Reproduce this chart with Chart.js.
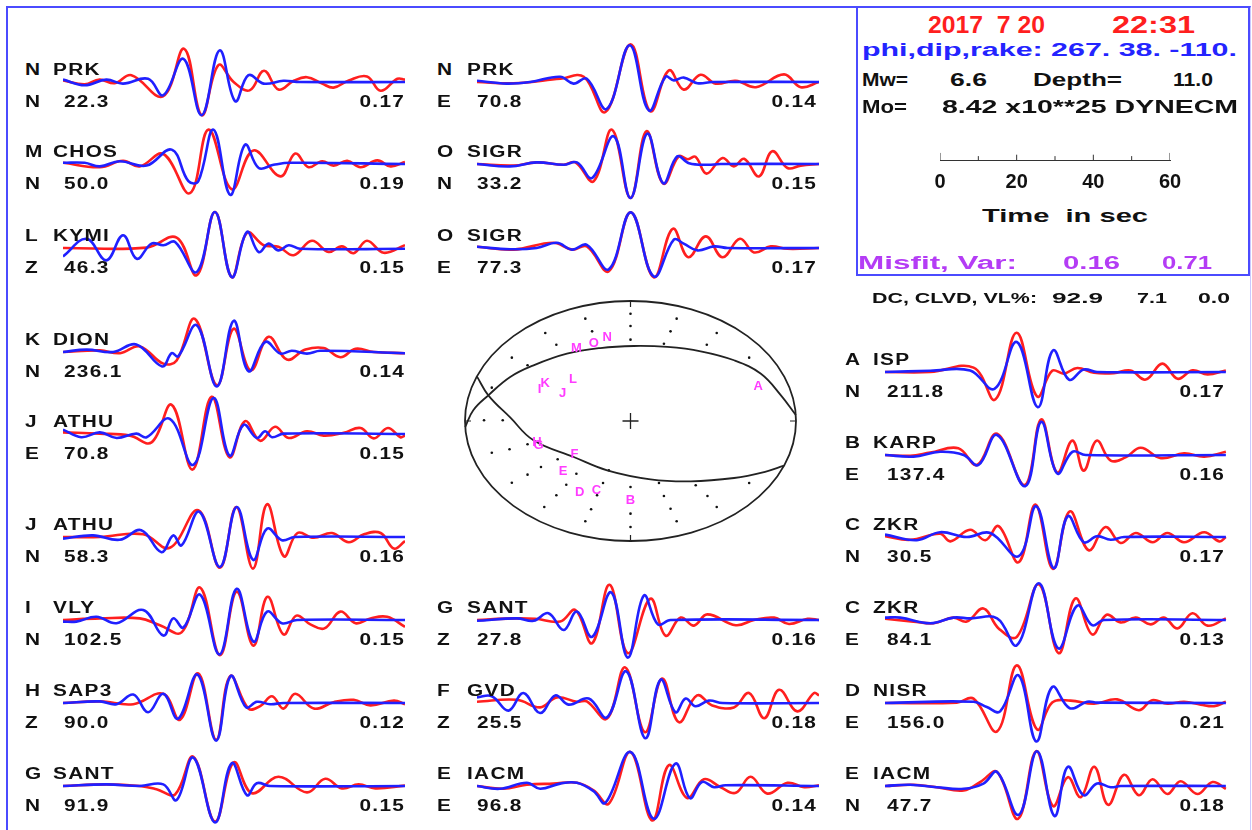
<!DOCTYPE html>
<html>
<head>
<meta charset="utf-8">
<title>Waveform fit 2017 7 20</title>
<script src="https://cdn.jsdelivr.net/npm/chart.js@4.4.1/dist/chart.umd.min.js"></script>
<style>
  body { margin: 0; background: #fff; }
  #page { position: relative; width: 1252px; height: 830px; overflow: hidden; background: #fff;
          font-family: "Liberation Sans", Arial, sans-serif; font-weight: bold; }
  #page canvas { position: absolute; }
  .txt { position: absolute; white-space: pre; }
  #frame { position: absolute; left: 6px; top: 6px; width: 1242px; height: 840px;
           border-left: 2px solid #4b4bff; border-top: 2px solid #4b4bff; border-right: 1px solid #c9c9ff; }
  #infobox { position: absolute; left: 856px; top: 6px; width: 390px; height: 266px; border: 2px solid #4b4bff; }
</style>
</head>
<body>
<div id="page"><div id="frame"></div><div id="infobox"></div></div>
<script>
// ---- event info ----
const eventDate = '2017  7 20';
const eventTime = '22:31';
const mechanism = [267, 38, -110];   // phi, dip, rake
const mw = 6.6;
const depthKm = 11.0;
const moment = 8.42;                 // x10**25 dyne-cm
const misfit = 0.16;
const variance = 0.71;
const dcClvdVl = [92.9, 7.1, 0.0];
const scaleTicks = [0, 20, 40, 60];
const scaleMarks = [0, 10, 20, 30, 40, 50, 60];
const scaleMarkH = [1, 0.55, 0.75, 0.55, 0.75, 0.55, 1];

// ---- stations / panels ----
const codeLetters = ['N','M','L','K','J','J','I','H','G','N','O','O','G','F','E','A','B','C','C','D','E'];
const stations = ['PRK','CHOS','KYMI','DION','ATHU','ATHU','VLY','SAP3','SANT','PRK','SIGR','SIGR','SANT','GVD','IACM','ISP','KARP','ZKR','ZKR','NISR','IACM'];
const components = ['N','N','Z','N','E','N','N','Z','N','E','N','E','Z','Z','E','N','E','N','E','E','N'];
const labelNum = ['22.3','50.0','46.3','236.1','70.8','58.3','102.5','90.0','91.9','70.8','33.2','77.3','27.8','25.5','96.8','211.8','137.4','30.5','84.1','156.0','47.7'];
const peakAmp = ['0.17','0.19','0.15','0.14','0.15','0.16','0.15','0.12','0.15','0.14','0.15','0.17','0.16','0.18','0.14','0.17','0.16','0.17','0.13','0.21','0.18'];

// ---- traces: [time s, relative amplitude]; red = syn, blue = obs ----
const synPRK_N = [[0,0.04],[5.7,-0.06],[9.6,0.06],[13.6,-0.03],[18,0.17],[26.3,-0.36],[31.9,0.83],[36.5,-0.83],[40.9,0.42],[44.9,0],[49.1,-0.21],[52.9,0.28],[56.7,-0.19],[60.7,0.03],[64.2,0.12],[68.2,-0.04],[71.2,-0.14],[75.2,0.04],[80,0.14],[83.6,-0.22],[88,0.08],[90,0.06]];
const obsPRK_N = [[0,0.06],[5.7,-0.08],[11.4,0.06],[15.8,-0.04],[22.4,0.08],[26.4,-0.33],[31.7,0.58],[36.5,-0.83],[41.2,0.79],[45.3,-0.48],[48.8,0.17],[52.8,-0.04],[58,0.03],[62.4,0],[90,0]];
const synCHOS_N = [[0,0.03],[9.7,-0.08],[15.8,0.08],[20.2,-0.06],[26.4,0.25],[33.4,-0.73],[38.3,0.86],[44.4,-0.63],[50.1,0.34],[57.2,-0.31],[61.1,0.26],[64.6,-0.08],[68.2,0.07],[71.2,-0.04],[74.8,0.08],[78.3,-0.08],[82.7,0.09],[86.2,-0.06],[90,0.05]];
const obsCHOS_N = [[0,0.03],[5.7,0.03],[9.7,-0.06],[14.9,0.07],[22,-0.04],[28.6,0.36],[33,-0.43],[35.6,-0.43],[39.6,0.86],[44,-0.77],[47.9,0.48],[51.5,-0.1],[55.4,-0.02],[59.8,0.03],[90,0]];
const synKYMI_Z = [[0,0],[22,0.01],[29.9,0.26],[35.2,-0.68],[40,0.9],[44.4,-0.73],[48.4,0.38],[52.8,0.07],[56.7,0.03],[60.7,-0.18],[65.5,0.18],[69.9,-0.1],[73.4,0.04],[76.5,-0.13],[80,0.18],[84.4,-0.12],[90,0.07]];
const obsKYMI_Z = [[0,-0.21],[6.2,0.23],[11.4,-0.31],[15.8,0.32],[19.4,-0.27],[23.3,0.11],[26.4,0.07],[29.5,0.15],[35.2,-0.6],[40,0.9],[44.4,-0.73],[48.4,0.4],[51.5,-0.1],[54.1,0.11],[56.7,-0.06],[59.4,0.07],[62.4,-0.02],[90,-0.02]];
const synDION_N = [[0,0],[9.7,0.04],[15,-0.03],[20.2,0.14],[26.4,-0.29],[29.9,-0.21],[34.7,0.83],[40.5,-0.83],[44.9,0.58],[49.4,-0.46],[54.1,0.38],[58.9,-0.19],[63.8,0.06],[68.6,0.1],[73,-0.13],[77,0.08],[81.8,0],[90,-0.03]];
const obsDION_N = [[0,0],[6.2,0.06],[13.2,0],[19.3,0.19],[26.1,-0.36],[28.6,-0.03],[30.3,-0.11],[35.2,0.67],[40.5,-0.86],[44.9,0.78],[48.8,-0.48],[53.2,0.25],[57.2,-0.04],[60.2,0.03],[64.2,-0.04],[67.7,0.03],[90,-0.03]];
const synATHU_E = [[0,0.04],[9.7,0.01],[17.6,-0.04],[23.3,-0.21],[28.6,0.73],[34.1,-0.89],[39.1,0.93],[43.8,-0.58],[47.9,0.32],[51.9,-0.17],[55.8,0.18],[59.4,-0.1],[64.2,0.07],[68.6,-0.04],[73.9,0.03],[78.3,0.15],[81.8,-0.11],[85.5,0.15],[88.8,-0.08],[90,-0.04]];
const obsATHU_E = [[0,0.11],[4.8,-0.08],[9.7,0.04],[14.1,-0.1],[19.3,0.01],[22,-0.08],[28.1,0.38],[34.3,-0.77],[39.6,0.9],[43.8,-0.54],[47.5,0.23],[51,-0.1],[53.2,0.07],[55,-0.08],[58.1,0.01],[90,0]];
const synATHU_N = [[0,0],[9.7,0],[21.1,0.07],[28.1,-0.27],[35.6,0.67],[41.3,-0.77],[45.6,0.75],[50,-0.79],[53.7,0.82],[58.1,-0.48],[61.7,0.1],[66,-0.02],[70.8,0.1],[75.2,-0.13],[79.2,0.07],[83.6,0.1],[87.1,-0.29],[90,-0.1]];
const obsATHU_N = [[0,-0.04],[7.9,0.04],[14.9,-0.07],[20.6,0.17],[25.9,-0.38],[29,0.04],[31.2,-0.21],[35.9,0.63],[41.3,-0.75],[45.7,0.75],[50,-0.57],[53.7,0.21],[57.6,-0.08],[61,0],[90,0]];
const synVLY_N = [[0,0],[9.7,0.04],[20.2,0.04],[25.5,-0.13],[31.2,-0.31],[36.1,0.81],[41.3,-0.88],[45.7,0.71],[50.1,-0.64],[53.8,0.58],[58,-0.36],[61.4,0.11],[65.1,-0.11],[68.8,-0.21],[73,0.21],[77,-0.08],[80.9,0.04],[85.3,0.08],[90,-0.17]];
const obsVLY_N = [[0,-0.04],[3.5,-0.04],[8.8,0.08],[14.1,-0.08],[21.1,0.25],[26.4,-0.39],[29,0.04],[31.7,-0.19],[36.1,0.63],[41.2,-0.86],[45.7,0.78],[50.1,-0.54],[53.7,0.21],[57.6,-0.08],[61.6,0],[90,0]];
const synSAP3_Z = [[0,0],[9.7,0.04],[18.5,-0.03],[26.4,0.23],[30.8,-0.42],[35.6,0.74],[40.3,-0.92],[44,0.67],[48.8,-0.14],[51.9,-0.08],[55,0.17],[58,-0.14],[61.1,0.23],[66,-0.14],[71.2,0.02],[76.5,0.08],[80.9,-0.06],[87.1,0.06],[90,-0.03]];
const obsSAP3_Z = [[0,0],[9.7,0.04],[14.1,-0.03],[18.5,0.21],[22.4,-0.23],[26.4,0.23],[30.3,-0.39],[35.4,0.71],[40.3,-0.94],[44.1,0.67],[48.2,-0.11],[51,0.03],[54.5,-0.03],[58,0],[90,0]];
const synSANT_N = [[0,0],[11.4,0.04],[20.2,0],[24.6,-0.08],[29.5,-0.21],[34.3,0.73],[40,-0.89],[44.9,0.59],[49.7,-0.18],[56.7,0.23],[64.2,-0.16],[69,0.18],[73.4,-0.06],[77.8,0.04],[82.2,-0.06],[90,0.01]];
const obsSANT_N = [[0,0],[11.4,0.04],[20.2,0],[26.4,0.04],[29.9,-0.35],[34.3,0.71],[40,-0.91],[44.4,0.57],[48.4,-0.23],[51,0.07],[54.5,0],[90,0]];
const synPRK_E = [[0,0],[9.6,-0.03],[21.9,0.08],[28.1,0.13],[33.8,-0.75],[40.4,0.94],[45.6,-0.73],[50.5,0.29],[54.4,-0.19],[58.8,0.18],[62.8,-0.04],[68.1,0.03],[73.4,-0.13],[80.8,0.19],[85.2,-0.13],[90,0]];
const obsPRK_E = [[0,0.03],[7.8,-0.04],[14,0],[21.9,0.13],[25.4,-0.04],[28.9,0.08],[34.2,-0.67],[40.2,0.92],[45.2,-0.71],[49.6,0.13],[51.8,0.04],[54.4,0.11],[58,-0.03],[62,0],[90,0]];
const synSIGR_N = [[0,0],[9.6,-0.04],[15.7,0.04],[22.8,-0.02],[25.9,0.04],[30.7,-0.43],[35.5,0.86],[40.4,-0.85],[44.6,0.82],[49,-0.49],[53.1,0.19],[55.5,0.12],[57.5,0.18],[60.4,-0.24],[64.6,0.15],[67.6,-0.06],[70.3,0.13],[74.2,-0.31],[77.7,0.32],[81.7,-0.1],[85.2,-0.04],[90,0]];
const obsSIGR_N = [[0,0],[8.7,-0.06],[15.7,0.04],[22.8,-0.02],[26.3,0.04],[30.3,-0.35],[36,0.69],[40.4,-0.85],[44.8,0.76],[49,-0.48],[52.7,0.19],[55.8,0.02],[60.6,-0.02],[64,0],[90,0]];
const synSIGR_E = [[0,0.03],[9.6,-0.04],[20.1,0.13],[25,-0.04],[28.9,0.04],[34.7,-0.58],[40.5,0.89],[46.5,-0.73],[51.5,0.48],[55.6,-0.23],[60.2,0.29],[64.6,-0.23],[69.2,0.23],[72.9,-0.11],[77.3,0.04],[81.7,-0.02],[90,0]];
const obsSIGR_E = [[0,0.03],[8.7,-0.03],[15.7,0],[21,0.13],[25,-0.04],[28.9,0.08],[34.7,-0.53],[40.5,0.89],[46.5,-0.71],[51.8,0.21],[54.4,0.11],[58,-0.06],[62.4,0.04],[66,0],[90,0]];
const synSANT_Z = [[0,0],[9.6,0.04],[15.3,0.03],[21.9,-0.04],[25.9,0.25],[30.3,-0.58],[34.9,0.88],[39.7,-0.83],[45.6,0.53],[49.6,-0.39],[53.6,0.06],[57.1,-0.14],[60.6,0.14],[68.1,-0.13],[72.9,0],[78.2,0.06],[82.1,-0.1],[87,0.03],[90,0]];
const obsSANT_Z = [[0,-0.02],[10.5,0.04],[14.9,-0.02],[18.8,0.17],[22.8,-0.25],[26.3,0.21],[30.3,-0.42],[35.3,0.69],[39.7,-0.94],[43.9,0.61],[47.6,-0.11],[50.9,0],[90,0]];
const synGVD_Z = [[0,0.03],[10.5,0.08],[16.6,-0.11],[21,0.14],[26.3,0.03],[28.9,0.04],[34.2,-0.39],[39,0.89],[44.2,-0.73],[48.7,0.61],[53.1,-0.48],[57.9,0.19],[61.9,-0.06],[67.6,-0.11],[71.6,0.25],[75.6,-0.38],[79.5,0.33],[84.3,-0.21],[88.7,0.25],[90,0.19]];
const obsGVD_Z = [[0,0.14],[3.9,0.17],[8.3,-0.19],[12.2,0.25],[16.6,-0.25],[20.6,0.19],[24.1,-0.04],[29.4,0.11],[34.2,-0.36],[39.3,0.79],[44.3,-0.88],[48.3,0.58],[52.2,-0.23],[54.9,0.11],[57.5,-0.08],[61,0.06],[64.6,0],[90,0]];
const synIACM_E = [[0,0],[6.9,-0.07],[13.1,0.03],[20.1,0.06],[26.3,0.08],[30.7,-0.11],[34.7,-0.44],[40.4,0.85],[46.1,-0.86],[50.5,0.52],[55.3,-0.3],[59.7,0.17],[64.1,-0.03],[68.1,-0.17],[72,0.23],[76.4,-0.19],[81.7,0.08],[86.1,-0.03],[90,0.02]];
const obsIACM_E = [[0,0],[6,-0.07],[13.1,0.08],[16.6,-0.07],[21.9,0.06],[26.3,0.08],[30.7,-0.13],[33.8,-0.42],[40.4,0.85],[46.5,-0.82],[52.2,0.56],[56,-0.3],[59.2,0.1],[62.4,-0.03],[65.4,0.02],[90,0]];
const synISP_N = [[0,0],[11.9,0],[23.3,0.11],[29,-0.69],[34.6,0.98],[40,-0.61],[44,0.03],[47.1,-0.04],[50.6,0.1],[55,-0.02],[60.2,-0.03],[64.6,0.04],[68.6,-0.19],[73,0.21],[77,-0.17],[80.9,0.04],[84.9,-0.06],[89.7,0.04]];
const obsISP_N = [[0,0],[11.9,0.03],[22.4,0.04],[28.8,-0.42],[34.7,0.75],[40.2,-0.88],[44.2,0.54],[48.4,-0.19],[52.3,0.06],[55.8,0],[89.7,0]];
const synKARP_E = [[0,0],[6.6,-0.02],[11.9,0.06],[19.3,0.17],[24.2,-0.25],[29.5,0.53],[36.8,-0.75],[41.1,0.89],[45.3,-0.44],[49.3,0.36],[52.3,-0.39],[55.7,0.36],[59.4,-0.14],[63.3,-0.06],[67.3,0.18],[72.6,-0.08],[78.7,0.04],[84,-0.04],[89.7,0.08]];
const obsKARP_E = [[0,0],[7.5,-0.04],[14.5,0.08],[20.7,0],[24.6,-0.25],[29.5,0.5],[36.9,-0.78],[41.1,0.83],[45.3,-0.46],[49.3,0.08],[52.8,0],[89.7,0]];
const synZKR_N = [[0,0.02],[6.6,-0.07],[14.5,0.08],[17.2,-0.11],[22.4,0.18],[26.4,-0.08],[29.9,0.27],[35.2,-0.63],[39.6,0.81],[44.2,-0.8],[48.6,0.64],[53.6,-0.33],[58,0.25],[62,-0.15],[66,0.1],[70.4,-0.13],[74.3,0.1],[78.7,-0.13],[84,0.12],[88,-0.11],[89.7,0]];
const obsZKR_N = [[0,0.06],[8.4,-0.08],[14.5,0.12],[21.5,0],[27.7,0.1],[35.2,-0.48],[39.8,0.77],[44.4,-0.78],[48.1,0.52],[52.3,-0.13],[55.8,0.02],[59.4,-0.07],[62.9,0],[89.7,0]];
const synZKR_E = [[0,0.03],[7.5,-0.04],[12.8,-0.08],[18,0.06],[21.5,-0.04],[25.9,0.29],[29.9,-0.21],[34.7,-0.42],[40.5,0.89],[45.7,-0.83],[50.1,0.54],[54.5,-0.36],[58.3,0.13],[62,-0.06],[66,0.06],[69.9,-0.11],[73.4,0.06],[77,-0.21],[80.9,0.17],[84.9,-0.14],[89.7,0.04]];
const obsZKR_E = [[0,0.06],[4,0.06],[11.9,-0.08],[18,0.06],[22.4,0.04],[29.5,0.04],[34.7,-0.63],[40.5,0.92],[45.6,-0.71],[50.6,0.36],[54.5,-0.13],[57.6,0],[89.7,0]];
const synNISR_E = [[0,0],[18.9,0.01],[23.3,0.11],[29.5,-0.71],[34.7,0.94],[40,-0.66],[44,0.01],[48.8,0.06],[55,-0.02],[61.1,0.09],[66.8,-0.18],[70.3,0.07],[74.3,-0.02],[78.7,0.03],[83.1,-0.04],[86.6,-0.08],[89.7,0.03]];
const obsNISR_E = [[0,0],[23.3,0.03],[26.8,-0.1],[30.3,-0.21],[35.2,0.69],[39.8,-0.96],[44,0.4],[48.6,-0.13],[53.2,0.03],[55.8,0.01],[89.7,0]];
const synIACM_N = [[0,0],[7.5,0.03],[13.6,-0.03],[20.7,-0.11],[25.1,0.1],[29.5,0.35],[35,-0.82],[39.8,0.87],[44.2,-0.5],[48.1,0.22],[51.5,-0.28],[55.1,0.48],[58.7,-0.47],[62.9,0.28],[66.8,-0.23],[70.4,0.17],[74.3,-0.2],[77.8,0.12],[82.2,-0.2],[86.2,0.1],[89.7,-0.07]];
const obsIACM_N = [[0,0],[6.6,0.03],[13.6,-0.03],[20.7,-0.07],[25.9,0.06],[29.5,0.35],[35.2,-0.72],[40,0.87],[44.6,-0.75],[48.1,0.48],[52.2,-0.23],[55.8,0.06],[59.4,-0.03],[62,0],[89.7,0]];

const synTraces = [synPRK_N, synCHOS_N, synKYMI_Z, synDION_N, synATHU_E, synATHU_N, synVLY_N, synSAP3_Z, synSANT_N,
                   synPRK_E, synSIGR_N, synSIGR_E, synSANT_Z, synGVD_Z, synIACM_E,
                   synISP_N, synKARP_E, synZKR_N, synZKR_E, synNISR_E, synIACM_N];
const obsTraces = [obsPRK_N, obsCHOS_N, obsKYMI_Z, obsDION_N, obsATHU_E, obsATHU_N, obsVLY_N, obsSAP3_Z, obsSANT_N,
                   obsPRK_E, obsSIGR_N, obsSIGR_E, obsSANT_Z, obsGVD_Z, obsIACM_E,
                   obsISP_N, obsKARP_E, obsZKR_N, obsZKR_E, obsNISR_E, obsIACM_N];

// ---- focal sphere (normalised projection) ----
const plane1X = [-0.928,-0.859,-0.727,-0.586,-0.343,-0.141,0.121,0.364,0.626,0.808,0.928];
const plane1Y = [0.372,0.214,0.03,-0.161,-0.3,-0.411,-0.486,-0.503,-0.475,-0.425,-0.372];
const plane2X = [-0.999,-0.95,-0.859,-0.727,-0.586,-0.384,-0.182,0.02,0.222,0.424,0.626,0.788,0.909,0.999];
const plane2Y = [-0.05,0.09,0.214,0.367,0.464,0.561,0.608,0.625,0.617,0.581,0.506,0.394,0.214,0.05];
const dotX = [0,-0.273,0.279,0,-0.232,0.242,-0.515,0.521,0,-0.448,0.202,0.461,-0.717,0.717,-0.622,-0.838,-0.885,-0.772,-0.838,-0.731,
              -0.622,-0.541,-0.44,-0.327,-0.622,-0.717,-0.388,-0.166,-0.131,0,-0.448,-0.202,0.172,0.394,0.717,0.202,0.465,-0.521,-0.238,0,
              0.242,0.521,-0.273,0,0.279];
const dotY = [0.894,0.853,0.853,0.792,0.747,0.747,0.733,0.733,0.678,0.636,0.644,0.636,0.528,0.528,0.464,0.278,0.006,0.006,-0.264,-0.236,
              -0.194,-0.383,-0.319,-0.439,-0.447,-0.514,-0.531,-0.517,-0.411,-0.55,-0.619,-0.619,-0.517,-0.536,-0.517,-0.625,-0.625,-0.717,-0.736,-0.772,
              -0.731,-0.717,-0.836,-0.883,-0.836];
const staLetters = ['A','B','C','D','E','F','G','H','I','J','K','L','M','N','O'];
const staX = [0.772,0,-0.206,-0.307,-0.408,-0.339,-0.556,-0.565,-0.55,-0.41,-0.515,-0.347,-0.327,-0.141,-0.222];
const staY = [0.292,-0.661,-0.578,-0.592,-0.419,-0.281,-0.203,-0.18,0.261,0.228,0.311,0.347,0.603,0.694,0.65];

// ---- layout (pixels) ----
const panelCol = [0,0,0,0,0,0,0,0,0,1,1,1,1,1,1,2,2,2,2,2,2];
const panelBase = [82,164,248,352,434,537,620,703,786,82,164,248,620,703,786,372,455,537,620,703,786];
const colLeft = [63,477,885];
const colLetterX = [25,437,845];
const colNameX = [53,467,873];
const colNumX = [64,477,887];
const colRightX = [405,817,1225];

const RED = '#ff1f1f', BLUE = '#2020ff', INK = '#111';
Chart.defaults.font.family = '"Liberation Sans", Arial, sans-serif';
const page = document.getElementById('page');

function addText(str, x, yc, o) {
  o = o || {};
  const size = o.size || 16;
  const el = document.createElement('div');
  el.className = 'txt';
  el.textContent = str;
  el.style.fontSize = size + 'px';
  el.style.lineHeight = size + 'px';
  el.style.letterSpacing = (o.ls === undefined ? 1 : o.ls) + 'px';
  el.style.color = o.color || INK;
  el.style.top = (yc - size * 0.48) + 'px';
  el.style.left = '0px';
  page.appendChild(el);
  const w = el.getBoundingClientRect().width;
  const s = o.width ? o.width / w : (o.scale || 1.3);
  if (o.align === 'right') {
    el.style.left = (x - w) + 'px';
    el.style.transformOrigin = '100% 50%';
  } else {
    el.style.left = x + 'px';
    el.style.transformOrigin = '0 50%';
  }
  el.style.transform = 'scaleX(' + s.toFixed(3) + ')';
}

function makeCanvas(left, top, w, h) {
  const cv = document.createElement('canvas');
  cv.width = w; cv.height = h;
  cv.style.left = left + 'px'; cv.style.top = top + 'px';
  cv.style.width = w + 'px'; cv.style.height = h + 'px';
  page.appendChild(cv);
  return cv;
}

const toXY = pts => pts.map(p => ({ x: p[0], y: p[1] }));
const quiet = { legend: { display: false }, tooltip: { enabled: false } };

// waveform panels
synTraces.forEach((syn, i) => {
  const col = panelCol[i], base = panelBase[i];
  const cv = makeCanvas(colLeft[col], base - 48, 342, 96);
  new Chart(cv, {
    type: 'line',
    data: {
      datasets: [
        { data: toXY(obsTraces[i]), borderColor: BLUE },
        { data: toXY(syn), borderColor: RED }
      ]
    },
    options: {
      responsive: false, animation: false, events: [],
      layout: { padding: 0, autoPadding: false },
      plugins: quiet,
      elements: { point: { radius: 0 }, line: { borderWidth: 2.6, tension: 0.4, fill: false } },
      datasets: { line: { clip: false } },
      scales: {
        x: { type: 'linear', min: 0, max: 90, display: false },
        y: { min: -1.2, max: 1.2, display: false }
      }
    }
  });
  addText(codeLetters[i], colLetterX[col], base - 12.5);
  addText(stations[i], colNameX[col], base - 12.5);
  addText(components[i], colLetterX[col], base + 19.5);
  addText(labelNum[i], colNumX[col], base + 19.5);
  addText(peakAmp[i], colRightX[col], base + 19.5, { align: 'right' });
});

// focal mechanism
const bbFrame = {
  id: 'bbFrame',
  beforeDatasetsDraw(chart) {
    const { ctx, scales: { x, y } } = chart;
    const cx = x.getPixelForValue(0), cy = y.getPixelForValue(0);
    const rx = x.getPixelForValue(1) - cx, ry = cy - y.getPixelForValue(1);
    ctx.save();
    ctx.strokeStyle = '#222';
    ctx.lineWidth = 1.8;
    ctx.beginPath();
    ctx.ellipse(cx, cy, rx, ry, 0, 0, Math.PI * 2);
    ctx.stroke();
    ctx.lineWidth = 1.2;
    ctx.beginPath();
    ctx.moveTo(cx, cy - ry); ctx.lineTo(cx, cy - ry + 6);
    ctx.moveTo(cx, cy + ry); ctx.lineTo(cx, cy + ry - 6);
    ctx.moveTo(cx - rx, cy); ctx.lineTo(cx - rx + 6, cy);
    ctx.moveTo(cx + rx, cy); ctx.lineTo(cx + rx - 6, cy);
    ctx.stroke();
    ctx.restore();
  },
  afterDatasetsDraw(chart) {
    const { ctx, scales: { x, y } } = chart;
    ctx.save();
    ctx.font = 'bold 13px "Liberation Sans", Arial, sans-serif';
    ctx.fillStyle = '#ff3cff';
    ctx.textAlign = 'center';
    ctx.textBaseline = 'middle';
    staLetters.forEach((s, k) => ctx.fillText(s, x.getPixelForValue(staX[k]), y.getPixelForValue(staY[k])));
    ctx.restore();
  }
};

const bbCanvas = makeCanvas(455, 291, 351, 260);
new Chart(bbCanvas, {
  type: 'scatter',
  data: {
    datasets: [
      { data: plane1X.map((v, k) => ({ x: v, y: plane1Y[k] })), showLine: true, pointRadius: 0, borderColor: '#222', borderWidth: 1.8, tension: 0.4 },
      { data: plane2X.map((v, k) => ({ x: v, y: plane2Y[k] })), showLine: true, pointRadius: 0, borderColor: '#222', borderWidth: 1.8, tension: 0.4 },
      { data: dotX.map((v, k) => ({ x: v, y: dotY[k] })), pointRadius: 1.3, pointBackgroundColor: '#111', pointBorderWidth: 0 },
      { data: [{ x: 0, y: 0 }], pointStyle: 'cross', pointRadius: 8, pointBorderColor: '#222', pointBorderWidth: 1.3 }
    ]
  },
  options: {
    responsive: false, animation: false, events: [],
    layout: { padding: 0, autoPadding: false },
    plugins: quiet,
    scales: {
      x: { type: 'linear', min: -1.0604, max: 1.0604, display: false },
      y: { type: 'linear', min: -1.0833, max: 1.0833, display: false }
    }
  },
  plugins: [bbFrame]
});

// time scale bar: axis line + tick marks drawn as short line datasets
const scCanvas = makeCanvas(900, 114, 310, 90);
new Chart(scCanvas, {
  type: 'scatter',
  data: {
    datasets: scaleMarks.map((t, k) => ({
      data: [{ x: t, y: 0 }, { x: t, y: scaleMarkH[k] }],
      showLine: true, pointRadius: 0, borderColor: '#333', borderWidth: 1
    }))
  },
  options: {
    responsive: false, animation: false, events: [],
    layout: { padding: { left: 40, right: 40, top: 0, bottom: 0 }, autoPadding: false },
    plugins: quiet,
    scales: {
      x: {
        type: 'linear', min: scaleTicks[0], max: scaleTicks[scaleTicks.length - 1],
        afterBuildTicks: axis => { axis.ticks = scaleTicks.map(v => ({ value: v })); },
        ticks: { autoSkip: false, maxRotation: 0, padding: 10, color: INK,
                 font: { size: 20, weight: 'bold' } },
        grid: { display: false, drawTicks: false },
        border: { display: true, color: '#333', width: 1 }
      },
      y: { display: false, min: 0, max: 6.5 }
    }
  }
});
addText('Time  in sec', 982, 215, { size: 19, width: 166, ls: 0 });

// info box text
addText(eventDate, 928, 25, { size: 23, color: '#ff1f1f', width: 117, ls: 0 });
addText(eventTime, 1112, 25, { size: 23, color: '#ff1f1f', width: 83, ls: 0 });
addText('phi,dip,rake: ' + mechanism.map(v => v + '.').join(' '), 862, 50, { size: 18, color: '#2424ff', width: 375, ls: 0 });
addText('Mw=', 862, 80, { size: 18, width: 46, ls: 0 });
addText(mw.toFixed(1), 950, 80, { size: 18, width: 37, ls: 0 });
addText('Depth=', 1033, 80, { size: 18, width: 89, ls: 0 });
addText(depthKm.toFixed(1), 1173, 80, { size: 18, width: 40, ls: 0 });
addText('Mo=', 862, 107, { size: 18, width: 45, ls: 0 });
addText(moment.toFixed(2) + ' x10**25 DYNECM', 942, 107, { size: 18, width: 296, ls: 0 });
addText('Misfit, Var:', 858, 263, { size: 18, color: '#b43cf5', width: 159, ls: 0 });
addText(misfit.toFixed(2), 1063, 263, { size: 18, color: '#b43cf5', width: 57, ls: 0 });
addText(variance.toFixed(2), 1162, 263, { size: 18, color: '#b43cf5', width: 50, ls: 0 });
addText('DC, CLVD, VL%:', 872, 297, { size: 15, width: 165, ls: 0 });
addText(dcClvdVl[0].toFixed(1), 1052, 297, { size: 15, width: 51, ls: 0 });
addText(dcClvdVl[1].toFixed(1), 1137, 297, { size: 15, width: 30, ls: 0 });
addText(dcClvdVl[2].toFixed(1), 1198, 297, { size: 15, width: 32, ls: 0 });
</script>
</body>
</html>
